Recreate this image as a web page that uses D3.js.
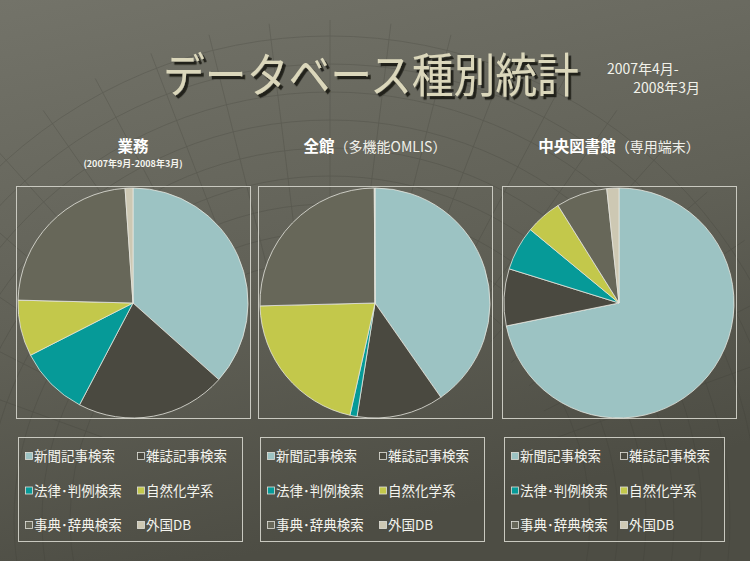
<!DOCTYPE html>
<html>
<head>
<meta charset="utf-8">
<script src="https://cdn.jsdelivr.net/npm/d3@7.9.0/dist/d3.min.js"></script>
<style>
  html, body { margin: 0; padding: 0; background: #5c5c52; }
  svg { display: block; font-family: "Noto Sans CJK JP", "Noto Sans", sans-serif; }
</style>
</head>
<body>
<svg id="chart" width="750" height="561"></svg>
<script>
// Categories (shared legend) and the three series, percent of total
const categories = ['新聞記事検索', '雑誌記事検索', '法律･判例検索', '自然化学系', '事典･辞典検索', '外国DB'];
const gyomuValues = [36.6, 21.1, 9.8, 7.9, 23.5, 1.1];
const zenkanValues = [40.3, 12.2, 1.0, 21.1, 25.3, 0.1];
const chuoValues = [71.8, 8.0, 6.2, 5.1, 7.2, 1.7];
const panelTitles = ['業務', '全館', '中央図書館'];
const panelNotes = ['', '（多機能OMLIS）', '（専用端末）'];
const panelSubtitles = ['(2007年9月-2008年3月)', '', ''];

const colors = d3.scaleOrdinal()
  .domain(categories)
  .range(['#9cc3c3', '#4a4940', '#069a98', '#c3c84b', '#676759', '#cdc8b3']);

const svg = d3.select('#chart');

// background gradient
const defs = svg.append('defs');
const bg = defs.append('linearGradient').attr('id', 'bg')
  .attr('x1', 0).attr('y1', 0).attr('x2', 0.3).attr('y2', 1);
bg.append('stop').attr('offset', '0%').attr('stop-color', '#737369');
bg.append('stop').attr('offset', '55%').attr('stop-color', '#616157');
bg.append('stop').attr('offset', '100%').attr('stop-color', '#4d4d44');
svg.append('rect').attr('width', 750).attr('height', 561).attr('fill', 'url(#bg)');

const shadow = defs.append('filter').attr('id', 'shadow')
  .attr('x', '-5%').attr('y', '-20%').attr('width', '115%').attr('height', '150%');
shadow.append('feDropShadow').attr('dx', 3).attr('dy', 3).attr('stdDeviation', 0.6)
  .attr('flood-color', '#1f1f18').attr('flood-opacity', 0.95);

// faint grid decoration in the background
const deco = svg.append('g').attr('stroke', '#3a3a32').attr('fill', 'none').attr('opacity', 0.28);
d3.range(0, 9).forEach(i => {
  deco.append('circle').attr('cx', 330).attr('cy', 520).attr('r', 260 + i * 28).attr('stroke-width', 0.8);
});
d3.range(-70, 71, 7).forEach(a => {
  const t = (a - 90) * Math.PI / 180;
  deco.append('line')
    .attr('x1', 330 + Math.cos(t) * 240).attr('y1', 520 + Math.sin(t) * 240)
    .attr('x2', 330 + Math.cos(t) * 500).attr('y2', 520 + Math.sin(t) * 500)
    .attr('stroke-width', 0.8);
});

// title
svg.append('g').attr('transform', 'translate(371,92) scale(0.95,1.05)')
  .append('text').attr('x', 0).attr('y', 0).attr('text-anchor', 'middle')
  .attr('font-size', 44).attr('fill', '#dbd7bb').attr('filter', 'url(#shadow)')
  .text('データベース種別統計');

svg.append('text').attr('x', 607).attr('y', 74).attr('font-size', 14).attr('fill', '#f2f2ea')
  .text('2007年4月-');
svg.append('text').attr('x', 700).attr('y', 93).attr('text-anchor', 'end').attr('font-size', 14)
  .attr('fill', '#f2f2ea').text('2008年3月');

// panels
const series = [gyomuValues, zenkanValues, chuoValues];
const panelLeft = [16, 258, 502];
const panelWidth = 234;
const pieTop = 187, pieHeight = 232;
const legendTop = 437, legendHeight = 104;
const radius = 115;

const pie = d3.pie().sort(null).value(d => d.value);
const arc = d3.arc().innerRadius(0).outerRadius(radius);

series.forEach((vals, i) => {
  const x0 = panelLeft[i];
  const cx = x0 + panelWidth / 2;
  const cy = pieTop + pieHeight / 2;

  // panel title
  const t = svg.append('text').attr('x', cx).attr('y', 152).attr('text-anchor', 'middle')
    .attr('fill', '#ffffff');
  t.append('tspan').attr('font-size', 15.5).attr('font-weight', 'bold').text(panelTitles[i]);
  if (panelNotes[i]) {
    t.append('tspan').attr('font-size', 14).attr('fill', '#f0f0ea').text(panelNotes[i]);
  }
  if (panelSubtitles[i]) {
    svg.append('text').attr('x', cx).attr('y', 167).attr('text-anchor', 'middle')
      .attr('font-size', 9).attr('font-weight', 'bold').attr('fill', '#f4f4ee')
      .text(panelSubtitles[i]);
  }

  // frame
  svg.append('rect').attr('x', x0 + 0.5).attr('y', pieTop - 0.5)
    .attr('width', panelWidth).attr('height', pieHeight)
    .attr('fill', 'none').attr('stroke', '#c9c9c0').attr('stroke-width', 1);

  const data = categories.map((c, k) => ({ label: c, value: vals[k] }));
  svg.append('g').attr('transform', `translate(${cx},${cy})`)
    .selectAll('path').data(pie(data)).join('path')
    .attr('d', arc)
    .attr('fill', d => colors(d.data.label))
    .attr('stroke', '#e6e6de').attr('stroke-width', 0.8);

  // legend
  const lx = x0 + 2;
  svg.append('rect').attr('x', lx + 0.5).attr('y', legendTop + 0.5)
    .attr('width', i === 2 ? 220 : 224).attr('height', legendHeight)
    .attr('fill', 'none').attr('stroke', '#c9c9c0').attr('stroke-width', 1);

  const items = svg.append('g').selectAll('g').data(categories).join('g')
    .attr('transform', (d, k) => `translate(${lx + 7 + (k % 2) * (i === 2 ? 109 : 112)},${legendTop + 19 + Math.floor(k / 2) * 34.5})`);
  items.append('rect').attr('x', 0.5).attr('y', -3.5).attr('width', 7).attr('height', 7)
    .attr('fill', d => colors(d)).attr('stroke', '#e2e2da').attr('stroke-width', 0.8);
  items.append('text').attr('x', 9).attr('y', 5).attr('font-size', 13.5)
    .attr('fill', '#f4f4ee').text(d => d);
});
</script>
</body>
</html>
